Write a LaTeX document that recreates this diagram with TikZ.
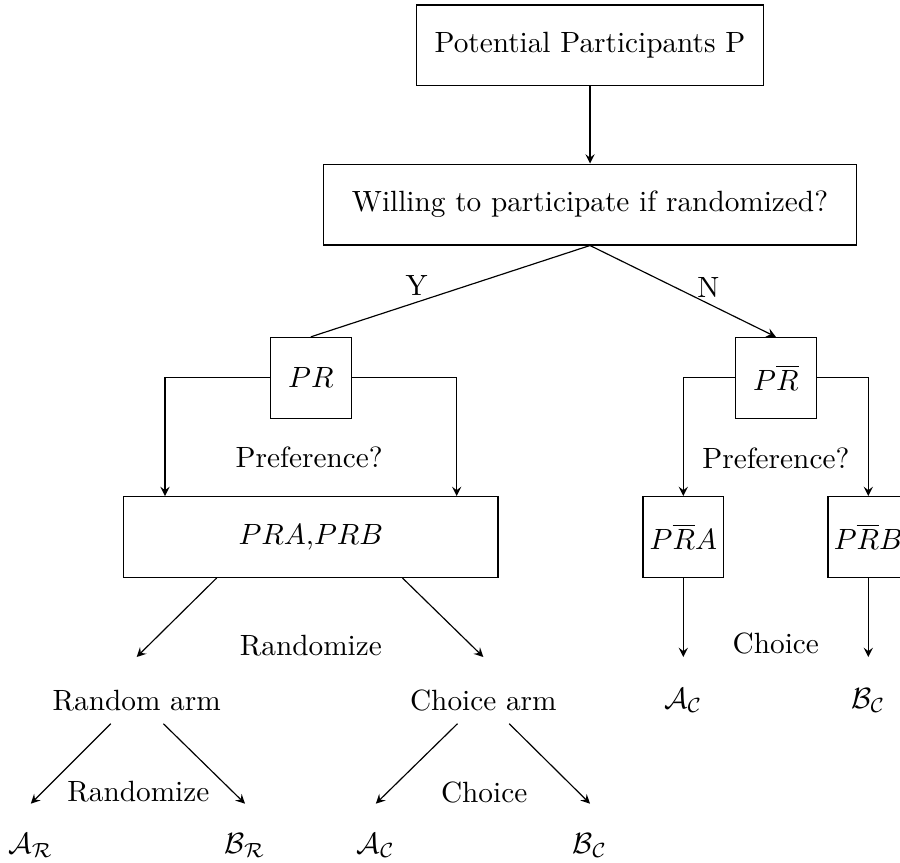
\documentclass[tikz,border=0pt]{standalone}
\usetikzlibrary{arrows}
\begin{document}
\begin{tikzpicture}[>=stealth,
	box/.style={draw,minimum height=0.97cm},
	sq/.style={draw,inner sep=1pt,minimum width=0.97cm,minimum height=0.97cm}]
	\useasboundingbox (0,0) rectangle (10.8,10.344);
	\clip (0,0) rectangle (10.8,10.344);
	% boxes
	\node[box,minimum width=4.16cm] (P) at (7.08,9.8) {Potential Participants P};
	\node[box,minimum width=6.4cm] (W) at (7.08,7.89) {Willing to participate if randomized?};
	\node[sq] (PR) at (3.73,5.81) {$PR$};
	\node[sq] (PRb) at (9.31,5.81) {$P\overline{R}$};
	\node[box,minimum width=4.49cm] (PRAB) at (3.73,3.9) {$PRA$,$PRB$};
	\node[sq] (PRbA) at (8.2,3.9) {$P\overline{R}A$};
	\node[sq] (PRbB) at (10.42,3.9) {$P\overline{R}B$};
	% labels
	\node (Y) at (5,6.92) {Y};
	\node (N) at (8.5,6.9) {N};
	\node (pref1) at (3.71,4.86) {Preference?};
	\node (pref2) at (9.31,4.85) {Preference?};
	\node (rand1) at (3.73,2.6) {Randomize};
	\node (cho1) at (9.31,2.62) {Choice};
	\node (RA) at (1.64,1.94) {Random arm};
	\node (CA) at (5.8,1.94) {Choice arm};
	\node (AC2) at (8.2,1.94) {$\mathcal{A}_\mathcal{C}$};
	\node (BC2) at (10.42,1.94) {$\mathcal{B}_\mathcal{C}$};
	\node (rand2) at (1.66,0.84) {Randomize};
	\node (cho2) at (5.81,0.84) {Choice};
	\node (AR) at (0.37,0.2) {$\mathcal{A}_\mathcal{R}$};
	\node (BR) at (2.94,0.2) {$\mathcal{B}_\mathcal{R}$};
	\node (AC) at (4.51,0.2) {$\mathcal{A}_\mathcal{C}$};
	\node (BC) at (7.08,0.2) {$\mathcal{B}_\mathcal{C}$};
	% arrows
	\draw[->] (P) -- (W);
	\draw (W.south) -- (PR.north);
	\draw[->] (W.south) -- (PRb.north);
	\draw[->] (PR.west) -| ([xshift=-1.75cm]PRAB.north);
	\draw[->] (PR.east) -| ([xshift=1.75cm]PRAB.north);
	\draw[->] (PRb.west) -| (PRbA.north);
	\draw[->] (PRb.east) -| (PRbB.north);
	\draw[->] (PRbA.south) -- ([yshift=.52cm]AC2.center);
	\draw[->] (PRbB.south) -- ([yshift=.52cm]BC2.center);
	\draw[->] ([xshift=-1.13cm]PRAB.south) -- ([yshift=.52cm]RA.center);
	\draw[->] ([xshift=1.1cm]PRAB.south) -- ([yshift=.52cm]CA.center);
	\draw[->] ([shift={(-.31,-.28)}]RA.center) -- ([yshift=.5cm]AR.center);
	\draw[->] ([shift={(.32,-.28)}]RA.center) -- ([yshift=.5cm]BR.center);
	\draw[->] ([shift={(-.31,-.28)}]CA.center) -- ([yshift=.5cm]AC.center);
	\draw[->] ([shift={(.31,-.28)}]CA.center) -- ([yshift=.5cm]BC.center);
\end{tikzpicture}
\end{document}
